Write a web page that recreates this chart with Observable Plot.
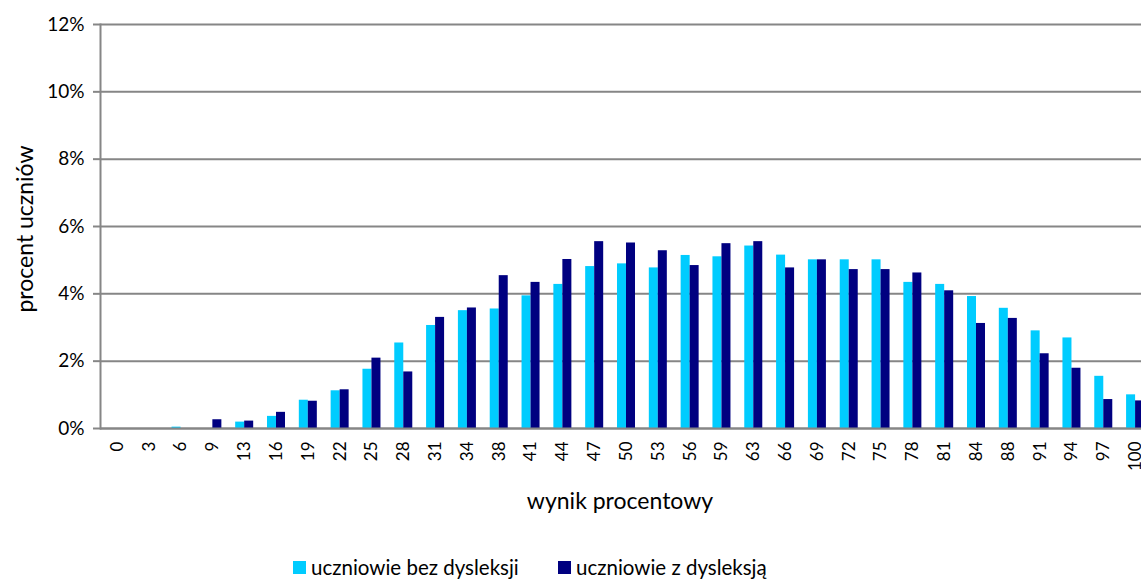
<!DOCTYPE html>
<html>
<head>
<meta charset="utf-8">
<script src="https://cdn.jsdelivr.net/npm/d3@7"></script>
<script src="https://cdn.jsdelivr.net/npm/@observablehq/plot@0.6"></script>
<style>
  html, body { margin: 0; padding: 0; background: #fff; }
  #wrap { position: relative; width: 1141px; height: 583px; overflow: hidden; font-family: Lato, "Liberation Sans", sans-serif; color: #000; }
  #chart { position: absolute; left: 0; top: 0; }
  #ylab { position: absolute; left: 24px; top: 229px; transform: translate(-50%, -50%) rotate(-90deg); font-size: 23px; white-space: nowrap; }
  #xlab { position: absolute; left: 620px; top: 500px; transform: translate(-50%, -50%); font-size: 23px; white-space: nowrap; }
  .item { position: absolute; top: 567px; transform: translateY(-50%); display: flex; align-items: center; font-size: 20.5px; white-space: nowrap; }
  .sw { display: inline-block; width: 13px; height: 13px; margin-right: 5px; }
</style>
</head>
<body>
<div id="wrap">
  <div id="chart"></div>
  <div id="ylab">procent uczniów</div>
  <div id="xlab">wynik procentowy</div>
</div>
<script>
const categories = ["0","3","6","9","13","16","19","22","25","28","31","34","38","41","44","47","50","53","56","59","63","66","69","72","75","78","81","84","88","91","94","97","100"];
const bezDysleksji = [0,0,0.04,0,0.19,0.36,0.84,1.12,1.76,2.54,3.06,3.50,3.55,3.94,4.28,4.81,4.89,4.77,5.14,5.10,5.42,5.15,5.01,5.01,5.01,4.34,4.28,3.92,3.57,2.90,2.69,1.55,1.00];
const zDysleksja = [0,0,0,0.26,0.22,0.48,0.81,1.15,2.09,1.68,3.30,3.58,4.54,4.34,5.02,5.55,5.51,5.28,4.84,5.49,5.55,4.77,5.01,4.72,4.72,4.62,4.09,3.12,3.27,2.22,1.79,0.86,0.82];
const seriesNames = ["uczniowie bez dysleksji", "uczniowie z dysleksją"];
const seriesColors = ["#00CCFF", "#000080"];
const yTicks = [0, 0.02, 0.04, 0.06, 0.08, 0.10, 0.12];

const light = categories.map((c, i) => ({cat: c, v: bezDysleksji[i] / 100}));
const dark = categories.map((c, i) => ({cat: c, v: zDysleksja[i] / 100}));

const W = 1141, H = 470;
const gridColor = "#868686";
const halfBar = 9;

const chart = Plot.plot({
  width: W,
  height: H,
  marginLeft: 100,
  marginRight: 0,
  marginTop: 24,
  marginBottom: 42,
  style: {fontFamily: "Lato, 'Liberation Sans', sans-serif", fontSize: "16px", color: "#000", background: "#fff"},
  x: {type: "band", domain: categories, range: [101, 1151], round: false, paddingInner: 0.434, paddingOuter: 0.217, align: 0.5, label: null},
  y: {domain: [0, 0.12], label: null},
  marks: [
    Plot.ruleY(yTicks, {stroke: gridColor, strokeWidth: 2}),
    Plot.barY(light, {x: "cat", y: "v", fill: seriesColors[0], insetRight: halfBar}),
    Plot.barY(dark, {x: "cat", y: "v", fill: seriesColors[1], insetLeft: halfBar}),
    Plot.ruleY([0], {stroke: gridColor, strokeWidth: 2}),
    Plot.frame({anchor: "left", stroke: gridColor, strokeWidth: 2}),
    Plot.axisY({ticks: yTicks, tickFormat: d3.format(".0%"), tickSize: 7, tickPadding: 9, stroke: gridColor, strokeOpacity: 1, strokeWidth: 2, label: null, fontSize: 19}),
    Plot.axisX({tickRotate: -90, tickSize: 0, tickPadding: 13, label: null, fontSize: 17})
  ]
});
document.getElementById("chart").appendChild(chart);

const wrap = document.getElementById("wrap");
const legendLeft = [293, 558];
seriesNames.forEach((name, i) => {
  const item = document.createElement("div");
  item.className = "item";
  item.style.left = legendLeft[i] + "px";
  const sw = document.createElement("span");
  sw.className = "sw";
  sw.style.background = seriesColors[i];
  item.appendChild(sw);
  item.appendChild(document.createTextNode(name));
  wrap.appendChild(item);
});
</script>
</body>
</html>
